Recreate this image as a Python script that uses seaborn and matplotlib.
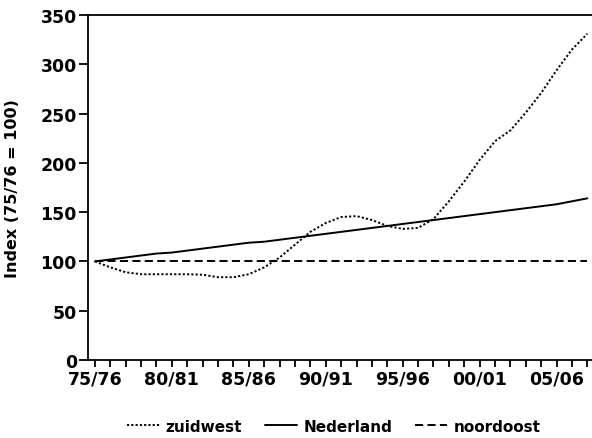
import numpy as np
import pandas as pd
import matplotlib
matplotlib.use("Agg")
import matplotlib.pyplot as plt
from matplotlib.lines import Line2D
import seaborn as sns

# seasons 75/76 .. 07/08
seizoenen = ["75/76", "76/77", "77/78", "78/79", "79/80", "80/81", "81/82", "82/83",
             "83/84", "84/85", "85/86", "86/87", "87/88", "88/89", "89/90", "90/91",
             "91/92", "92/93", "93/94", "94/95", "95/96", "96/97", "97/98", "98/99",
             "99/00", "00/01", "01/02", "02/03", "03/04", "04/05", "05/06", "06/07",
             "07/08"]

zuidwest = [100, 94, 89, 87, 87, 87, 87, 86.5, 84, 84, 87, 94, 104, 117, 130, 139,
            145, 146, 142, 136, 133, 134, 143, 161, 181, 203, 222, 233, 251, 271,
            294, 315, 331]
nederland = [100, 102, 104, 106, 108, 109, 111, 113, 115, 117, 119, 120, 122, 124,
             126, 128, 130, 132, 134, 136, 138, 140, 142, 144, 146, 148, 150, 152,
             154, 156, 158, 161, 164]
noordoost = [100, 100, 100, 100, 100, 100, 100, 100, 100, 100, 100, 100, 100, 100,
             100, 100, 100, 100, 100, 100, 100, 100, 100, 100, 100, 100, 100, 100,
             100, 100, 100, 100, 100]

reeksen = ["zuidwest", "Nederland", "noordoost"]
label_stappen = 5

df = pd.DataFrame({
    "pos": list(range(len(seizoenen))) * 3,
    "index": zuidwest + nederland + noordoost,
    "regio": ["zuidwest"] * len(zuidwest) + ["Nederland"] * len(nederland)
             + ["noordoost"] * len(noordoost),
})

sns.set_style("ticks")
plt.rcParams['font.family'] = ['DejaVu Sans']
plt.rcParams['font.weight'] = 'bold'
plt.rcParams['text.color'] = 'black'
plt.rcParams['axes.labelcolor'] = 'black'

fig = plt.figure(figsize=(5.92, 4.39), dpi=100)
ax = fig.add_axes([88 / 592, 78 / 439, 504 / 592, 345 / 439])

dot = (1.1, 1.1)
dash = (4.2, 2.2)
dashes = {"zuidwest": dot, "Nederland": "", "noordoost": dash}
sns.lineplot(data=df, x="pos", y="index", hue="regio", style="regio",
             hue_order=reeksen, style_order=reeksen,
             palette=["black"] * 3, dashes=dashes, linewidth=1.4,
             legend=False, ax=ax)

ax.set_xlim(-0.45, 32.3)
ax.set_ylim(0, 350)
ax.set_yticks(np.arange(0, 351, 50))
ax.set_xticks(range(0, len(seizoenen), label_stappen))
ax.set_xticklabels(seizoenen[::label_stappen])
ax.set_xticks(range(len(seizoenen)), minor=True)
ax.tick_params(axis="both", which="both", direction="out", width=1.3,
               labelsize=12.5, colors="black")
ax.tick_params(axis="y", length=6.5, pad=1.5)
ax.tick_params(axis="x", which="both", length=5, pad=2)
for lab in ax.get_xticklabels() + ax.get_yticklabels():
    lab.set_fontweight("bold")

ax.set_xlabel("")
ax.set_ylabel("Index (75/76 = 100)", fontsize=11.5, fontweight="bold", color="black")
ax.yaxis.set_label_coords(-0.135, 0.5)

for s in ["left", "bottom", "top"]:
    ax.spines[s].set_linewidth(1.3)
    ax.spines[s].set_color("black")
ax.spines["right"].set_visible(False)

handles = [Line2D([], [], color="black", lw=1.4, dashes=dot),
           Line2D([], [], color="black", lw=1.4),
           Line2D([], [], color="black", lw=1.4, dashes=dash)]
leg = fig.legend(handles, reeksen, loc="center", bbox_to_anchor=(0.564, 0.027), ncol=3,
                 frameon=False, handlelength=2.1, columnspacing=1.5, handletextpad=0.4,
                 prop={"size": 11, "weight": "bold"})
for t in leg.get_texts():
    t.set_color("black")

fig.savefig("out.png", dpi=100)
